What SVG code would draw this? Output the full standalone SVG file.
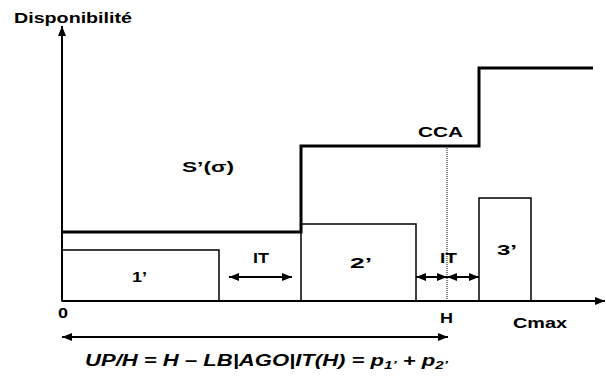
<svg xmlns="http://www.w3.org/2000/svg" width="606" height="378" viewBox="0 0 606 378">
<defs>
<marker id="ah" viewBox="0 0 10 10" refX="10" refY="5" markerWidth="10" markerHeight="10" markerUnits="userSpaceOnUse" orient="auto-start-reverse"><path d="M0,1 L10,5 L0,9 Z" fill="#000"/></marker>
<marker id="ahs" viewBox="0 0 10 10" refX="10" refY="5" markerWidth="10" markerHeight="10" markerUnits="userSpaceOnUse" orient="auto-start-reverse"><path d="M0,1 L10,5 L0,9 Z" fill="#000"/></marker>
</defs>
<style>
text{font-family:"Liberation Sans",Arial,sans-serif;font-weight:bold;fill:#000}
.box{fill:#fff;stroke:#000;stroke-width:1.5}
.ax{stroke:#000;stroke-width:2;fill:none}
.step{stroke:#000;stroke-width:3;fill:none}
.arr{stroke:#000;stroke-width:2;fill:none}
</style>
<rect width="606" height="378" fill="#fff"/>
<g id="tasks">
<g id="task1"><rect class="box" x="62" y="250" width="157" height="51"/><text x="132" y="282" font-size="15" textLength="15" lengthAdjust="spacingAndGlyphs">1’</text></g>
<g id="task2"><rect class="box" x="301" y="224" width="115" height="77"/><text x="350" y="268" font-size="15" textLength="22" lengthAdjust="spacingAndGlyphs">2’</text></g>
<g id="task3"><rect class="box" x="479" y="198" width="52" height="103"/><text x="497" y="255" font-size="15" textLength="20" lengthAdjust="spacingAndGlyphs">3’</text></g>
</g>
<g id="connectors">
<line class="ax" x1="62" y1="301" x2="62" y2="26" marker-end="url(#ah)"/>
<line class="ax" x1="62" y1="301" x2="605" y2="301" marker-end="url(#ah)"/>
<polyline class="step" points="62,232 301,232 301,146 479,146 479,68 593,68"/>
<line x1="447" y1="146" x2="447" y2="301" stroke="#000" stroke-width="1" stroke-dasharray="1,1"/>
<line class="arr" x1="229" y1="277" x2="292" y2="277" marker-start="url(#ahs)" marker-end="url(#ahs)"/>
<line class="arr" x1="416" y1="277" x2="447" y2="277" marker-start="url(#ahs)" marker-end="url(#ahs)"/>
<line class="arr" x1="447" y1="277" x2="479" y2="277" marker-start="url(#ahs)" marker-end="url(#ahs)"/>
<line class="arr" x1="62" y1="337" x2="448" y2="337" marker-start="url(#ah)" marker-end="url(#ah)"/>
</g>
<g id="labels">
<text x="14" y="23" font-size="15" textLength="118" lengthAdjust="spacingAndGlyphs">Disponibilité</text>
<text x="182" y="172" font-size="15" textLength="52" lengthAdjust="spacingAndGlyphs">S’(σ)</text>
<text x="418" y="137" font-size="15" textLength="45" lengthAdjust="spacingAndGlyphs">CCA</text>
<text x="253" y="263" font-size="15" textLength="16" lengthAdjust="spacingAndGlyphs">IT</text>
<text x="440" y="263" font-size="15" textLength="17" lengthAdjust="spacingAndGlyphs">IT</text>
<text x="58" y="318" font-size="15" textLength="10" lengthAdjust="spacingAndGlyphs">0</text>
<text x="440" y="323" font-size="15" textLength="13" lengthAdjust="spacingAndGlyphs">H</text>
<text x="513" y="328" font-size="15" textLength="54" lengthAdjust="spacingAndGlyphs">Cmax</text>
<text x="85" y="366" font-size="16" font-style="italic" textLength="363" lengthAdjust="spacingAndGlyphs">UP/H = H – LB|AGO|IT(H) = p<tspan font-size="11" dy="3">1’</tspan><tspan dy="-3"> + p</tspan><tspan font-size="11" dy="3">2’</tspan></text>
</g>
</svg>
